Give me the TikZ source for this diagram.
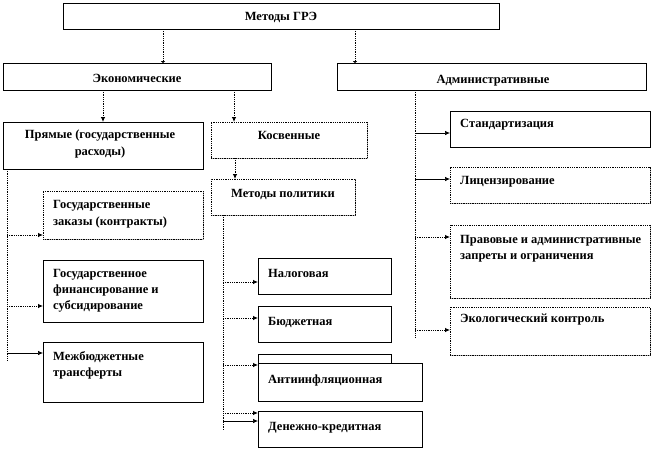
\documentclass[tikz,border=0pt]{standalone}
\usepackage{fontspec}
\setmainfont{Liberation Serif}
\usetikzlibrary{arrows.meta,shadows}
\tikzset{
  box/.style={draw=black, line width=0.8pt, fill=white, inner sep=0pt, outer sep=0pt,
    drop shadow={shadow xshift=1.2pt, shadow yshift=-1.2pt, fill=gray!60, opacity=1}},
  dbox/.style={box, densely dotted},
  txt/.style={font=\bfseries\fontsize{12.5}{16}\selectfont, inner sep=0pt, anchor=base west},
  ctxt/.style={txt, anchor=base},
  conn/.style={densely dotted, line width=0.8pt, -{Latex[length=5pt,width=4.5pt]}},
  sconn/.style={line width=0.7pt, -{Latex[length=5pt,width=4.5pt]}},
  tconn/.style={densely dotted, line width=0.8pt, -{Latex[length=2pt,width=5pt]}},
  bus/.style={densely dotted, line width=0.8pt},
}
\newcommand\rbox[6]{\node[#6, minimum width={#4-#2}, minimum height={#5-#3}] (#1) at ({(#2+#4)/2},{(#3+#5)/2}) {};}
\begin{document}
\begin{tikzpicture}[x=1pt,y=-1pt]
\useasboundingbox (0,0) rectangle (654,450);
% boxes
\rbox{top}{63}{3}{499}{29}{box}
\rbox{eco}{3}{63}{271}{90}{box}
\rbox{adm}{337}{63}{646}{90}{box}
\rbox{pr}{3}{122}{203}{169}{box}
\rbox{ks}{211}{122}{367}{158}{dbox}
\rbox{mp}{211}{179}{355}{215}{dbox}
\rbox{gz}{43}{191}{203}{239}{dbox}
\rbox{gf}{43}{260}{203}{322}{box}
\rbox{mb}{43}{342}{203}{402}{box}
\rbox{nal}{258}{258}{391}{294}{box}
\rbox{bud}{258}{306}{391}{342}{box}
\rbox{hid}{258}{354}{391}{390}{box}
\rbox{ai}{258}{363}{422}{401}{box}
\rbox{dk}{258}{411}{422}{447}{box}
\rbox{st}{450}{111}{650}{147}{box}
\rbox{lic}{450}{167}{650}{203}{dbox}
\rbox{pv}{450}{225}{650}{298}{dbox}
\rbox{ek}{450}{307}{650}{355}{dbox}
% texts
\node[ctxt] (ttop) at (281,20) {Методы ГРЭ};
\node[ctxt] (teco) at (137,82) {Экономические};
\node[ctxt] (tadm) at (493,83) {Административные};
\node[ctxt] (tpr1) at (100,138) {Прямые (государственные};
\node[ctxt] (tpr2) at (100,155) {расходы)};
\node[ctxt] (tks) at (289,139) {Косвенные};
\node[ctxt] (tmp) at (283,197) {Методы политики};
\node[txt] (tgz1) at (53,208) {Государственные};
\node[txt] (tgz2) at (53,225) {заказы (контракты)};
\node[txt] (tgf1) at (53,277) {Государственное};
\node[txt] (tgf2) at (53,293) {финансирование и};
\node[txt] (tgf3) at (53,309) {субсидирование};
\node[txt] (tmb1) at (53,360) {Межбюджетные};
\node[txt] (tmb2) at (53,376) {трансферты};
\node[txt] (tnal) at (268,277) {Налоговая};
\node[txt] (tbud) at (268,325) {Бюджетная};
\node[txt] (tai) at (268,383) {Антиинфляционная};
\node[txt] (tdk) at (268,430) {Денежно-кредитная};
\node[txt] (tst) at (460,127) {Стандартизация};
\node[txt] (tlic) at (460,184) {Лицензирование};
\node[txt] (tpv1) at (460,243) {Правовые и административные};
\node[txt] (tpv2) at (460,259) {запреты и ограничения};
\node[txt] (tek) at (460,322) {Экологический контроль};
% connector coordinates
\coordinate (xa) at (163,0);
\coordinate (xb) at (355,0);
\coordinate (xc) at (103,0);
\coordinate (xd) at (234,0);
\coordinate (xe) at (235,0);
\coordinate (bp) at (7,360);
\coordinate (bm) at (223,430);
\coordinate (ba) at (415,338);
\coordinate (a1) at (7,235);
\coordinate (a2) at (7,306);
\coordinate (a3) at (7,353);
\coordinate (m1) at (223,282);
\coordinate (m2) at (223,318);
\coordinate (m3) at (223,365);
\coordinate (m4) at (223,413);
\coordinate (m5) at (223,421);
\coordinate (d1) at (415,133);
\coordinate (d2) at (415,179);
\coordinate (d3) at (415,237);
\coordinate (d4) at (415,330);
% connectors
\draw[tconn] (top.south -| xa) -- (eco.north -| xa);
\draw[tconn] (top.south -| xb) -- (adm.north -| xb);
\draw[conn] (eco.south -| xc) -- (pr.north -| xc);
\draw[conn] (eco.south -| xd) -- (ks.north -| xd);
\draw[conn] (ks.south -| xe) -- (mp.north -| xe);
\draw[bus] (pr.south -| bp) -- (bp);
\draw[bus] (mp.south -| bm) -- (bm);
\draw[bus] (adm.south -| ba) -- (ba);
\draw[conn] (a1) -- (a1 -| gz.west);
\draw[conn] (a2) -- (a2 -| gf.west);
\draw[sconn] (a3) -- (a3 -| mb.west);
\draw[conn] (m1) -- (m1 -| nal.west);
\draw[conn] (m2) -- (m2 -| bud.west);
\draw[conn] (m3) -- (m3 -| hid.west);
\draw[conn] (m4) -- (m4 -| dk.west);
\draw[sconn] (m5) -- (m5 -| dk.west);
\draw[sconn] (d1) -- (d1 -| st.west);
\draw[sconn] (d2) -- (d2 -| lic.west);
\draw[conn] (d3) -- (d3 -| pv.west);
\draw[conn] (d4) -- (d4 -| ek.west);
\end{tikzpicture}
\end{document}
